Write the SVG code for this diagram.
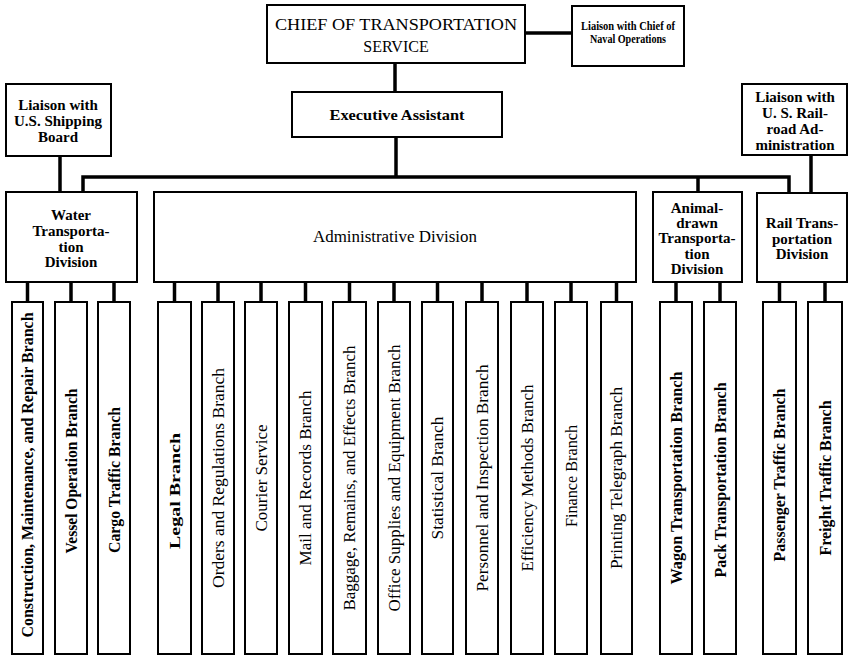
<svg xmlns="http://www.w3.org/2000/svg" width="850" height="656" viewBox="0 0 850 656">
<style>
rect{fill:#fff;stroke:#000;stroke-width:2}
.c line,.c path{stroke:#000;stroke-width:3.5;fill:none}
text{font-family:"Liberation Serif","Times New Roman",serif;fill:#000}
.b{font-weight:bold}
.hd{font-size:15px;text-anchor:middle}
.br{font-size:16px;text-anchor:middle}
</style>
<rect x="0" y="0" width="850" height="656" style="stroke:none"/>
<g class="c" id="connectors">
<line x1="395" y1="63" x2="395" y2="92"/>
<line x1="525" y1="33" x2="572" y2="33"/>
<line x1="396" y1="137" x2="396" y2="177"/>
<path d="M83 192 V177 H789 V193"/>
<line x1="698" y1="177" x2="698" y2="192"/>
<line x1="60" y1="156" x2="60" y2="192"/>
<line x1="811" y1="155" x2="811" y2="193"/>
<line x1="27.5" y1="282" x2="27.5" y2="302"/>
<line x1="71" y1="282" x2="71" y2="302"/>
<line x1="114" y1="282" x2="114" y2="302"/>
<line x1="174.5" y1="282" x2="174.5" y2="302"/>
<line x1="218" y1="282" x2="218" y2="302"/>
<line x1="261" y1="282" x2="261" y2="302"/>
<line x1="305.5" y1="282" x2="305.5" y2="302"/>
<line x1="349.5" y1="282" x2="349.5" y2="302"/>
<line x1="394" y1="282" x2="394" y2="302"/>
<line x1="437.5" y1="282" x2="437.5" y2="302"/>
<line x1="482" y1="282" x2="482" y2="302"/>
<line x1="527" y1="282" x2="527" y2="302"/>
<line x1="571" y1="282" x2="571" y2="302"/>
<line x1="616.5" y1="282" x2="616.5" y2="302"/>
<line x1="676" y1="282" x2="676" y2="302"/>
<line x1="720" y1="282" x2="720" y2="302"/>
<line x1="779.5" y1="282" x2="779.5" y2="302"/>
<line x1="825" y1="282" x2="825" y2="302"/>
</g>
<g id="chief"><rect x="267" y="5" width="258" height="58"/>
<text x="396" y="30" style="font-size:16px;text-anchor:middle" textLength="242" lengthAdjust="spacingAndGlyphs">CHIEF OF TRANSPORTATION</text>
<text x="396" y="52" style="font-size:16px;text-anchor:middle">SERVICE</text></g>
<g id="naval"><rect x="572" y="6" width="112" height="60"/>
<text class="b" x="628" y="30" style="font-size:12.5px;text-anchor:middle" textLength="94" lengthAdjust="spacingAndGlyphs">Liaison with Chief of</text>
<text class="b" x="628" y="43" style="font-size:12.5px;text-anchor:middle" textLength="76" lengthAdjust="spacingAndGlyphs">Naval Operations</text></g>
<g id="exec"><rect x="292" y="92" width="210" height="45"/>
<text class="b hd" x="397" y="120" textLength="135" lengthAdjust="spacingAndGlyphs">Executive Assistant</text></g>
<g id="liaison-shipping"><rect x="6" y="84" width="105" height="72"/>
<text class="b hd" x="58" y="110">Liaison with</text>
<text class="b hd" x="58" y="126">U.S. Shipping</text>
<text class="b hd" x="58" y="142">Board</text></g>
<g id="liaison-rail"><rect x="742" y="84" width="105" height="71"/>
<text class="b hd" x="795" y="102">Liaison with</text>
<text class="b hd" x="795" y="118">U. S. Rail-</text>
<text class="b hd" x="795" y="134">road Ad-</text>
<text class="b hd" x="795" y="150">ministration</text></g>
<g id="water"><rect x="6" y="192" width="131" height="90"/>
<text class="b hd" x="71" y="220">Water</text>
<text class="b hd" x="71" y="236">Transporta-</text>
<text class="b hd" x="71" y="252">tion</text>
<text class="b hd" x="71" y="267">Division</text></g>
<g id="admin"><rect x="154" y="192" width="482" height="90"/>
<text x="395" y="242" style="font-size:16px;text-anchor:middle" textLength="164" lengthAdjust="spacingAndGlyphs">Administrative Division</text></g>
<g id="animal"><rect x="653" y="192" width="89" height="90"/>
<text class="b hd" x="697" y="213">Animal-</text>
<text class="b hd" x="697" y="228">drawn</text>
<text class="b hd" x="697" y="243">Transporta-</text>
<text class="b hd" x="697" y="259">tion</text>
<text class="b hd" x="697" y="274">Division</text></g>
<g id="rail"><rect x="757" y="193" width="90" height="89"/>
<text class="b hd" x="802" y="228">Rail Trans-</text>
<text class="b hd" x="802" y="244">portation</text>
<text class="b hd" x="802" y="259">Division</text></g>
<g id="b1"><rect x="12" y="302" width="31" height="352"/><text class="b br" transform="translate(33,475) rotate(-90)" textLength="325" lengthAdjust="spacingAndGlyphs">Construction, Maintenance, and Repair Branch</text></g>
<g id="b2"><rect x="55" y="302" width="32" height="352"/><text class="b br" transform="translate(76.5,471) rotate(-90)" textLength="165" lengthAdjust="spacingAndGlyphs">Vessel Operation Branch</text></g>
<g id="b3"><rect x="98" y="302" width="32" height="352"/><text class="b br" transform="translate(119.5,480) rotate(-90)" textLength="146" lengthAdjust="spacingAndGlyphs">Cargo Traffic Branch</text></g>
<g id="b4"><rect x="158" y="302" width="33" height="352"/><text class="b br" transform="translate(180,491) rotate(-90)" textLength="116" lengthAdjust="spacingAndGlyphs" style="font-size:15px">Legal Branch</text></g>
<g id="b5"><rect x="202" y="302" width="32" height="352"/><text class="br" transform="translate(223.5,478) rotate(-90)" textLength="220" lengthAdjust="spacingAndGlyphs">Orders and Regulations Branch</text></g>
<g id="b6"><rect x="245" y="302" width="32" height="352"/><text class="br" transform="translate(266.5,478) rotate(-90)" textLength="107" lengthAdjust="spacingAndGlyphs">Courier Service</text></g>
<g id="b7"><rect x="289" y="302" width="33" height="352"/><text class="br" transform="translate(311,478) rotate(-90)" textLength="175" lengthAdjust="spacingAndGlyphs">Mail and Records Branch</text></g>
<g id="b8"><rect x="333" y="302" width="33" height="352"/><text class="br" transform="translate(355,478) rotate(-90)" textLength="265" lengthAdjust="spacingAndGlyphs">Baggage, Remains, and Effects Branch</text></g>
<g id="b9"><rect x="378" y="302" width="32" height="352"/><text class="br" transform="translate(399.5,478) rotate(-90)" textLength="267" lengthAdjust="spacingAndGlyphs">Office Supplies and Equipment Branch</text></g>
<g id="b10"><rect x="422" y="302" width="31" height="352"/><text class="br" transform="translate(443,478) rotate(-90)" textLength="123" lengthAdjust="spacingAndGlyphs">Statistical Branch</text></g>
<g id="b11"><rect x="466" y="302" width="32" height="352"/><text class="br" transform="translate(487.5,478) rotate(-90)" textLength="227" lengthAdjust="spacingAndGlyphs">Personnel and Inspection Branch</text></g>
<g id="b12"><rect x="511" y="302" width="32" height="352"/><text class="br" transform="translate(532.5,478) rotate(-90)" textLength="187" lengthAdjust="spacingAndGlyphs">Efficiency Methods Branch</text></g>
<g id="b13"><rect x="555" y="302" width="32" height="352"/><text class="br" transform="translate(576.5,476) rotate(-90)" textLength="102" lengthAdjust="spacingAndGlyphs">Finance Branch</text></g>
<g id="b14"><rect x="601" y="302" width="31" height="352"/><text class="br" transform="translate(622,478) rotate(-90)" textLength="182" lengthAdjust="spacingAndGlyphs">Printing Telegraph Branch</text></g>
<g id="b15"><rect x="660" y="302" width="32" height="352"/><text class="b br" transform="translate(681.5,478) rotate(-90)" textLength="213" lengthAdjust="spacingAndGlyphs">Wagon Transportation Branch</text></g>
<g id="b16"><rect x="704" y="302" width="32" height="352"/><text class="b br" transform="translate(725.5,480) rotate(-90)" textLength="195" lengthAdjust="spacingAndGlyphs">Pack Transportation Branch</text></g>
<g id="b17"><rect x="763" y="302" width="33" height="352"/><text class="b br" transform="translate(785,475) rotate(-90)" textLength="173" lengthAdjust="spacingAndGlyphs">Passenger Traffic Branch</text></g>
<g id="b18"><rect x="808" y="302" width="34" height="352"/><text class="b br" transform="translate(830.5,478) rotate(-90)" textLength="155" lengthAdjust="spacingAndGlyphs">Freight Traffic Branch</text></g>
</svg>
